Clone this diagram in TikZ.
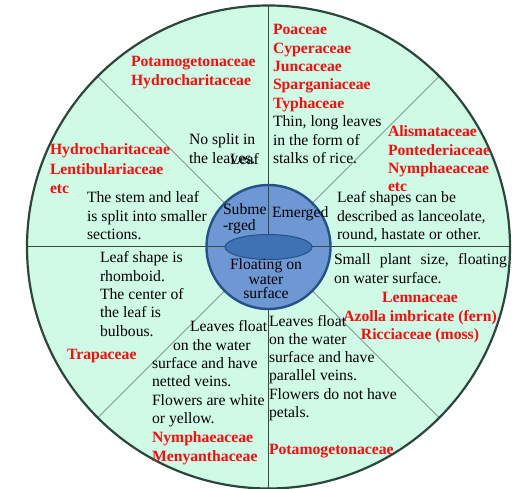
\documentclass[tikz,border=0pt]{standalone}
\usepackage{fontspec}
\setmainfont{Liberation Serif}
\definecolor{mint}{RGB}{206,250,230}
\definecolor{rimc}{RGB}{45,70,60}
\definecolor{innerblue}{RGB}{110,152,212}
\definecolor{innerrim}{RGB}{38,82,138}
\definecolor{ellblue}{RGB}{62,114,180}
\definecolor{redtxt}{RGB}{250,12,12}
\definecolor{linec}{RGB}{55,75,68}
\definecolor{diagc}{RGB}{95,110,105}
\newcommand\mystrut{\rule{0pt}{12pt}}
\begin{document}
\begin{tikzpicture}[x=1pt,y=-1pt,
  txt/.style={inner sep=0pt,outer sep=0pt,anchor=north west,align=left,text=black,
    font=\fontsize{15.7}{18.3}\selectfont},
  fam/.style={txt,text=redtxt,font=\fontsize{15.7}{18.3}\selectfont\bfseries},
  divider/.style={draw=linec,line width=1pt},
  diag/.style={draw=diagc,line width=0.6pt}
]
\useasboundingbox (0,0) rectangle (531,489);
\coordinate (C) at (268.5,247);
% outer disc
\fill[mint] (C) circle (241.5);
% dividers
\draw[divider] (C) ++(-241.5,0) coordinate (L) -- ++(483,0) coordinate (R);
\draw[divider] (C) ++(0,-241.5) coordinate (T) -- (C);
\draw[divider] (C) ++(0,62) coordinate (IB) -- ++(0,179.5) coordinate (B);
\foreach \a in {45,135,225,315}{
  \draw[diag] (C) ++(\a:62) -- ++(\a:179.5);
}
\draw[rimc,line width=2.2pt] (C) circle (241.5);
% inner disc
\fill[innerblue] (C) circle (62);
\draw[divider] (C) ++(-62,0) -- ++(124,0);
\draw[divider] (C) ++(0,-62) -- (C);
\draw[innerrim,line width=2.4pt] (C) circle (62);
\filldraw[fill=ellblue,draw=innerrim,line width=1pt] (C) ellipse [x radius=43.5,y radius=12.5];

% texts
\node[fam] (redA) at (131,55) {\mystrut Potamogetonaceae\\Hydrocharitaceae};
\node[txt] (nosplit) at (189,133) {\mystrut No split in\\the leaves.};
\node[txt] (leaf) at (230,153) {\mystrut Leaf};
\node[fam,font=\fontsize{15.7}{19.5}\selectfont\bfseries] (redB) at (50,143) {\mystrut Hydrocharitaceae\\Lentibulariaceae\\etc};
\node[txt] (stem) at (87,191) {\mystrut The stem and leaf\\is split into smaller\\sections.};
\node[txt,font=\fontsize{15.7}{16}\selectfont] (subm) at (223,203) {\mystrut Subme\\-rged};
\node[txt] (emerged) at (272,206) {\mystrut Emerged};
\node[txt,anchor=north,align=center,font=\fontsize{15.7}{14.2}\selectfont] (floating) at (266,258) {\mystrut Floating on\\water\\surface};
\node[fam] (redC) at (273,23) {\mystrut Poaceae\\Cyperaceae\\Juncaceae\\Sparganiaceae\\Typhaceae};
\node[txt] (thin) at (273,115) {\mystrut Thin, long leaves\\in the form of\\stalks of rice.};
\node[fam] (redD) at (388,125) {\mystrut Alismataceae\\Pontederiaceae\\Nymphaeaceae\\etc};
\node[txt] (shapes) at (337,191) {\mystrut Leaf shapes can be\\described as lanceolate,\\round, hastate or other.};
\node[txt] (small) at (334,253) {\mystrut\hbox to 173pt{Small\hfill plant\hfill size,\hfill floating}\\on water surface.};
\node[fam,anchor=north,align=center] (redE) at (420,291) {\mystrut Lemnaceae\\Azolla imbricate (fern)\\Ricciaceae (moss)};
\node[txt] (floatR) at (269,314) {\mystrut Leaves float\\on the water\\surface and have\\parallel veins.\\Flowers do not have\\petals.};
\node[fam] (redF) at (269,443) {\mystrut Potamogetonaceae};
\node[txt] (rhomb) at (100,251) {\mystrut Leaf shape is\\rhomboid.\\The center of\\the leaf is\\bulbous.};
\node[fam] (trapa) at (67,348) {\mystrut Trapaceae};
\node[txt] (floatL) at (152,320) {\mystrut\hspace*{38pt}Leaves float\\\hspace*{21pt}on the water\\surface and have\\netted veins.\\Flowers are white\\or yellow.};
\node[fam,font=\fontsize{15.7}{19}\selectfont\bfseries] (redG) at (152,431) {\mystrut Nymphaeaceae\\Menyanthaceae};
\end{tikzpicture}
\end{document}
